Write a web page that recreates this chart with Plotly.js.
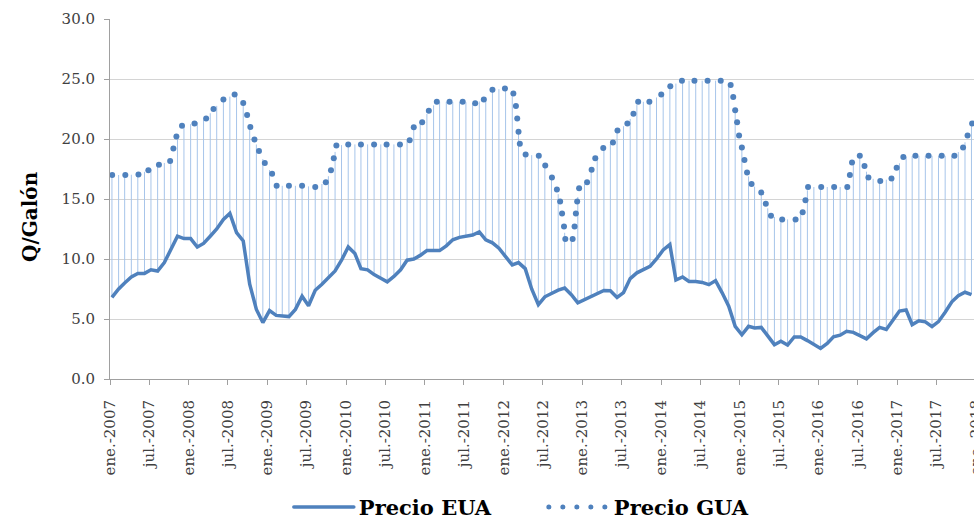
<!DOCTYPE html>
<html>
<head>
<meta charset="utf-8">
<script src="https://cdn.plot.ly/plotly-3.0.1.min.js"></script>
<style>
html, body { margin: 0; padding: 0; overflow: hidden; background: #fff; }
#chart { width: 1000px; height: 523px; }
.legend path { stroke-linecap: round; }
</style>
</head>
<body>
<div id="chart"></div>
<script>
// ---- Data ----
const firstMonth = '2007-01';              // first monthly observation (Precio EUA)
const euaValues = [
  6.8, 7.5, 8.0, 8.5, 8.8, 8.8, 9.1, 9.0, 9.7, 10.8, 11.9, 11.7,          // 2007
  11.7, 11.0, 11.3, 11.9, 12.5, 13.3, 13.8, 12.2, 11.5, 7.9, 5.8, 4.7,    // 2008
  5.7, 5.3, 5.25, 5.2, 5.8, 6.9, 6.1, 7.4, 7.9, 8.4, 9.0, 9.9,            // 2009
  11.0, 10.45, 9.2, 9.1, 8.7, 8.4, 8.1, 8.55, 9.1, 9.9, 10.0, 10.3,       // 2010
  10.7, 10.7, 10.7, 11.1, 11.6, 11.8, 11.9, 12.0, 12.25, 11.6, 11.35, 10.9, // 2011
  10.2, 9.5, 9.7, 9.2, 7.5, 6.2, 6.85, 7.15, 7.4, 7.58, 7.03, 6.35,       // 2012
  6.6, 6.85, 7.1, 7.38, 7.36, 6.8, 7.2, 8.37, 8.85, 9.15, 9.38, 10.0,     // 2013
  10.75, 11.2, 8.25, 8.5, 8.13, 8.13, 8.05, 7.86, 8.2, 7.2, 6.07, 4.39,   // 2014
  3.69, 4.39, 4.25, 4.3, 3.55, 2.86, 3.14, 2.83, 3.5, 3.5, 3.2, 2.86,     // 2015
  2.55, 2.97, 3.52, 3.65, 3.97, 3.89, 3.61, 3.35, 3.86, 4.3, 4.13, 4.94,  // 2016
  5.66, 5.75, 4.53, 4.85, 4.76, 4.36, 4.78, 5.57, 6.43, 6.94, 7.23, 7.03  // 2017
];

const guaDates = [
  '2007-01-11','2007-03-13','2007-05-13','2007-06-28','2007-08-16','2007-10-07','2007-10-22','2007-11-05','2007-12-01',
  '2008-01-28','2008-03-22','2008-04-25','2008-06-10','2008-08-01','2008-09-10','2008-09-28','2008-10-13','2008-11-01','2008-11-22','2008-12-19',
  '2009-01-22','2009-02-12','2009-04-10','2009-06-10','2009-08-10','2009-09-28','2009-10-22','2009-11-04','2009-11-16',
  '2010-01-10','2010-03-10','2010-05-10','2010-07-07','2010-09-07','2010-10-22','2010-11-10','2010-12-19',
  '2011-01-19','2011-02-25','2011-04-25','2011-06-25','2011-08-22','2011-10-01','2011-11-10',
  '2012-01-07','2012-02-15','2012-02-27','2012-03-04','2012-03-10','2012-03-16','2012-04-12','2012-06-12','2012-07-12','2012-08-12',
  '2012-09-04','2012-09-19','2012-09-28','2012-10-07','2012-10-13','2012-11-16','2012-11-25','2012-12-01','2012-12-07','2012-12-16',
  '2013-01-22','2013-02-12','2013-03-01','2013-04-07','2013-05-22','2013-06-12','2013-07-28','2013-08-25','2013-09-16','2013-11-07',
  '2014-01-01','2014-02-12','2014-04-07','2014-06-04','2014-08-04','2014-10-04','2014-11-19','2014-12-01','2014-12-10','2014-12-19','2014-12-28',
  '2015-01-10','2015-01-22','2015-02-03','2015-02-24','2015-04-10','2015-05-01','2015-05-25','2015-07-16','2015-09-16','2015-10-19','2015-11-01','2015-11-13',
  '2016-01-13','2016-03-13','2016-05-13','2016-05-25','2016-06-04','2016-07-10','2016-08-01','2016-08-19','2016-10-13','2016-12-04','2016-12-28',
  '2017-01-28','2017-03-25','2017-05-25','2017-07-25','2017-09-22','2017-11-01','2017-11-22','2017-12-13'
];
const guaValues = [
  17.0, 17.0, 17.05, 17.4, 17.85, 18.17, 19.2, 20.2, 21.1,
  21.3, 21.7, 22.5, 23.3, 23.7, 23.0, 22.0, 21.0, 19.95, 19.0, 18.0,
  17.1, 16.1, 16.1, 16.1, 16.0, 16.4, 17.4, 18.4, 19.45,
  19.55, 19.55, 19.55, 19.55, 19.55, 19.9, 20.97, 21.4,
  22.36, 23.1, 23.1, 23.1, 22.97, 23.3, 24.1,
  24.2, 23.8, 22.75, 21.7, 20.6, 19.6, 18.7, 18.6, 17.8, 16.8,
  15.8, 14.8, 13.8, 12.7, 11.67, 11.67, 12.7, 13.8, 14.8, 15.9,
  16.4, 17.44, 18.4, 19.25, 19.7, 20.7, 21.3, 22.1, 23.1, 23.1,
  23.7, 24.4, 24.86, 24.86, 24.86, 24.86, 24.5, 23.5, 22.4, 21.4, 20.3,
  19.3, 18.25, 17.2, 16.25, 15.55, 14.6, 13.6, 13.3, 13.3, 13.9, 14.9, 16.0,
  16.0, 16.0, 16.0, 17.0, 18.05, 18.6, 17.75, 16.8, 16.5, 16.7, 17.6,
  18.5, 18.6, 18.6, 18.6, 18.6, 19.3, 20.3, 21.3
];

const tickDates = ['2007-01-01','2007-07-01','2008-01-01','2008-07-01','2009-01-01','2009-07-01','2010-01-01','2010-07-01',
  '2011-01-01','2011-07-01','2012-01-01','2012-07-01','2013-01-01','2013-07-01','2014-01-01','2014-07-01',
  '2015-01-01','2015-07-01','2016-01-01','2016-07-01','2017-01-01','2017-07-01','2018-01-01'];
const tickLabels = ['ene.-2007','jul.-2007','ene.-2008','jul.-2008','ene.-2009','jul.-2009','ene.-2010','jul.-2010',
  'ene.-2011','jul.-2011','ene.-2012','jul.-2012','ene.-2013','jul.-2013','ene.-2014','jul.-2014',
  'ene.-2015','jul.-2015','ene.-2016','jul.-2016','ene.-2017','jul.-2017','ene.-2018'];

const yTitle = 'Q/Galón';

// ---- Build monthly dates ----
const [fy, fm] = firstMonth.split('-').map(Number);
const euaDates = euaValues.map((_, i) => {
  const y = fy + Math.floor((fm - 1 + i) / 12);
  const m = ((fm - 1 + i) % 12) + 1;
  return y + '-' + String(m).padStart(2, '0') + '-10';
});

// High-low lines: from EUA to GUA level at each monthly date
const t = s => Date.parse(s + 'T00:00:00Z');
const guaT = guaDates.map(t);
function guaAt(ts) {
  if (ts <= guaT[0]) return guaValues[0];
  if (ts >= guaT[guaT.length - 1]) return guaValues[guaValues.length - 1];
  for (let i = 1; i < guaT.length; i++) {
    if (ts <= guaT[i]) {
      const f = (ts - guaT[i - 1]) / (guaT[i] - guaT[i - 1]);
      return guaValues[i - 1] + f * (guaValues[i] - guaValues[i - 1]);
    }
  }
}
const hlX = [], hlY = [];
euaDates.forEach((d, i) => {
  hlX.push(d, d, null);
  hlY.push(euaValues[i], guaAt(t(d)), null);
});

const blue = '#4f81bd';
const traces = [
  { x: hlX, y: hlY, mode: 'lines', line: { color: '#a7c5ea', width: 1 }, showlegend: false, hoverinfo: 'skip' },
  { x: euaDates, y: euaValues, name: 'Precio EUA', mode: 'lines', line: { color: blue, width: 3.5, shape: 'linear' } },
  { x: guaDates, y: guaValues, name: 'Precio GUA', mode: 'markers', marker: { color: blue, size: 6 }, showlegend: false },
  { x: [null], y: [null], name: 'Precio GUA', mode: 'lines', line: { color: blue, width: 5, dash: '0px,14px' } }
];

const tickFont = { family: 'DejaVu Serif', size: 15, color: '#404040' };
const layout = {
  width: 1000, height: 523,
  margin: { l: 110, r: 10, t: 19, b: 144, autoexpand: false },
  paper_bgcolor: '#fff', plot_bgcolor: '#fff',
  showlegend: true,
  xaxis: {
    type: 'date', range: ['2007-01-01', '2018-03-06'], automargin: false,
    tickmode: 'array', tickvals: tickDates, ticktext: tickLabels, tickangle: -90,
    tickfont: tickFont, ticks: 'outside', ticklen: 5, tickcolor: '#a0a0a0',
    showline: true, linecolor: '#a0a0a0', linewidth: 1, showgrid: false, zeroline: false,
    ticklabelstandoff: 9
  },
  yaxis: {
    range: [0, 30], dtick: 5, tick0: 0, tickformat: '.1f', automargin: false,
    tickfont: tickFont, ticks: 'outside', ticklen: 5, tickcolor: '#a0a0a0',
    showline: true, linecolor: '#a0a0a0', linewidth: 1,
    gridcolor: '#d4d4d4', gridwidth: 1, zeroline: false,
    ticklabelstandoff: 6
  },
  annotations: [{
    text: yTitle, xref: 'paper', yref: 'paper', x: -0.0909, y: 0.45,
    xanchor: 'center', yanchor: 'middle', textangle: -90, showarrow: false,
    font: { family: 'DejaVu Serif', size: 20, weight: 'bold', color: '#000' }
  }],
  legend: {
    orientation: 'h', x: 0.493, xanchor: 'center', y: 0.03, yref: 'container', yanchor: 'middle',
    font: { family: 'DejaVu Serif', size: 21, weight: 'bold', color: '#000' },
    itemwidth: 60, entrywidth: 180, entrywidthmode: 'pixels', tracegroupgap: 0
  }
};

Plotly.newPlot('chart', traces, layout, { displayModeBar: false, staticPlot: true });
</script>
</body>
</html>
